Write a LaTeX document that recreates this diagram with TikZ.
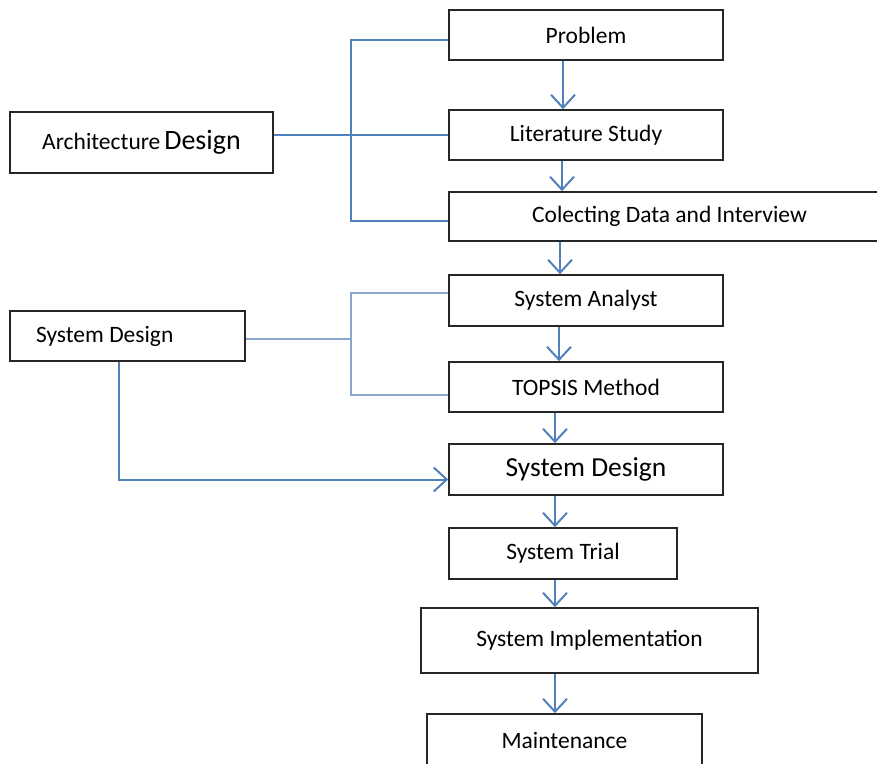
\documentclass[tikz,border=0pt]{standalone}
\usepackage{fontspec}
\setmainfont{Carlito}
\usetikzlibrary{arrows.meta}
\definecolor{flowblue}{RGB}{79,129,189}
\definecolor{paleblue}{RGB}{138,166,204}
\tikzset{
  box/.style={draw=black!85, line width=1.6pt, fill=white, inner sep=0pt,
    font=\fontsize{23.5}{27}\selectfont},
  flow/.style={draw=flowblue, line width=2pt,
    -{Straight Barb[length=13pt,width=24pt,line width=2pt]}},
  link/.style={draw=flowblue, line width=2pt},
  palelink/.style={draw=paleblue, line width=2pt}
}
\begin{document}
\begin{tikzpicture}[x=1pt,y=-1pt]

% Page frame and clipping (boxes run off the right and bottom edge)
\useasboundingbox (0,0) rectangle (877,763);
\clip (0,0) rectangle (877,763);

% Main column of steps
\node[box, minimum width=274pt, minimum height=50pt] (prob)  at (586,35)    {Problem};
\node[box, minimum width=274pt, minimum height=50pt] (lit)   at (586,135)   {Literature Study};
\node[box, minimum width=441pt, minimum height=49pt] (data)  at (669.5,216.5) {Colecting Data and Interview};
\node[box, minimum width=274pt, minimum height=51pt] (anal)  at (586,300.5) {System Analyst};
\node[box, minimum width=274pt, minimum height=50pt] (tops)  at (586,387)   {TOPSIS Method};
\node[box, minimum width=274pt, minimum height=51pt, font=\fontsize{27.5}{31}\selectfont] (sysd) at (586,469.5) {System Design};
\node[box, minimum width=228pt, minimum height=51pt] (trial) at (563,553.5) {System Trial};
\node[box, minimum width=337pt, minimum height=65pt] (impl)  at (589.5,640.5) {System Implementation};
\node[box, minimum width=275pt, minimum height=52pt] (maint) at (564.5,740) {Maintenance};

% Side boxes
\node[box, minimum width=263pt, minimum height=61pt] (arch) at (141.5,142.5)
  {\fontsize{23.5}{27}\selectfont Architecture\,\fontsize{28}{27}\selectfont Design};
\node[box, minimum width=235pt, minimum height=50pt] (sdl) at (127.5,336)
  {\makebox[183pt][l]{System Design}};

% Bus lines of the brackets
\coordinate (abus) at (351,40);   % bracket of Architecture Design
\coordinate (sbus) at (351,292);  % bracket of System Design

% Architecture Design bracket
\draw[link] ([yshift=-5pt]prob.west) -| (abus |- data.west) |- ([yshift=-4pt]data.west);
\draw[link] (arch.east |- lit.west) -- (lit.west);

% System Design bracket
\draw[palelink] ([yshift=8pt]anal.west) -| (sbus |- tops.west) |- ([yshift=-8pt]tops.west);
\draw[palelink] ([yshift=-3pt]sdl.east) -- ([yshift=-3pt]sdl.east -| sbus);

% System Design feeds the main design step
\draw[flow] ([xshift=-9pt]sdl.south) |- ([yshift=-10pt]sysd.west);

% Arrows down the main column
\draw[flow] ([xshift=-23pt]prob.south) -- ([xshift=-23pt]prob.south |- lit.north);
\draw[flow] ([xshift=-24pt]lit.south) -- ([xshift=-24pt]lit.south |- data.north);
\draw[flow] ([xshift=-26pt]anal.north |- data.south) -- ([xshift=-26pt]anal.north);
\draw[flow] ([xshift=-27pt]anal.south) -- ([xshift=-27pt]anal.south |- tops.north);
\draw[flow] ([xshift=-31pt]tops.south) -- ([xshift=-31pt]tops.south |- sysd.north);
\draw[flow] ([xshift=-8pt]trial.north |- sysd.south) -- ([xshift=-8pt]trial.north);
\draw[flow] ([xshift=-8pt]trial.south) -- ([xshift=-8pt]trial.south |- impl.north);
\draw[flow] ([xshift=-9.5pt]maint.north |- impl.south) -- ([xshift=-9.5pt]maint.north);

\end{tikzpicture}
\end{document}
